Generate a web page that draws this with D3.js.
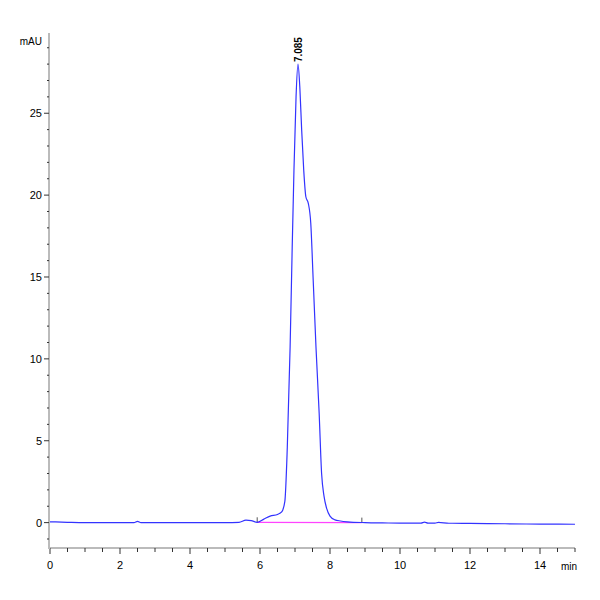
<!DOCTYPE html>
<html><head><meta charset="utf-8">
<script src="https://cdn.jsdelivr.net/npm/d3@7"></script>
<style>body{margin:0;background:#fff}</style>
</head><body><div id="chart"></div>
<script>
// retention time (min) and signal (mAU)
const times  = [0, 0.5, 1, 1.5, 2, 2.4, 2.5, 2.6, 3, 3.5, 4, 4.5, 5, 5.4, 5.6, 5.75, 5.92, 6.1, 6.29, 6.5, 6.62, 6.71, 6.78, 6.86, 6.92, 6.97, 7.03, 7.085, 7.14, 7.19, 7.25, 7.31, 7.38, 7.45, 7.52, 7.6, 7.69, 7.76, 7.83, 7.9, 8.0, 8.14, 8.3, 8.5, 9, 9.5, 10, 10.6, 10.7, 10.8, 11, 11.1, 11.4, 11.5, 12, 13, 14, 15];
const signal = [0.05, 0.02, 0.0, 0.0, 0.0, 0.0, 0.08, 0.0, 0.0, 0.0, 0.0, 0.0, 0.0, 0.02, 0.15, 0.12, 0.02, 0.2, 0.4, 0.5, 0.65, 1.3, 4.6, 10.7, 16.8, 21.5, 26.0, 28.0, 26.5, 24.0, 21.5, 19.9, 19.5, 18.3, 14.8, 10.7, 6.7, 3.0, 1.6, 0.9, 0.4, 0.17, 0.1, 0.05, 0.0, -0.02, -0.03, -0.03, 0.03, -0.03, -0.03, 0.02, -0.04, -0.04, -0.05, -0.07, -0.09, -0.1];
const baseline = [[5.92, 0.02], [8.91, 0.0]];
const xTicks = [0, 2, 4, 6, 8, 10, 12, 14];
const yTicks = [0, 5, 10, 15, 20, 25];
const peakTime = 7.085, peakLabel = "7.085";

const svg = d3.select("#chart").append("svg").attr("width", 600).attr("height", 600)
  .style("font-family", "Liberation Sans, Arial, sans-serif");
const x = d3.scaleLinear().domain([0, 15]).range([50, 575]);
const y = d3.scaleLinear().domain([-1.55, 29.9]).range([548, 33]);

// x axis
const xa = svg.append("g").attr("transform", "translate(0,548)");
xa.append("line").attr("x1", 49).attr("x2", 575).attr("stroke", "#bbb").attr("stroke-width", 2);
xa.selectAll(".mn").data(d3.range(0, 15.01, 0.5)).join("line")
  .attr("x1", d => x(d)).attr("x2", d => x(d)).attr("y1", 0).attr("y2", d => d % 2 === 0 ? 6 : 4)
  .attr("stroke", "#333");
xa.selectAll("text").data(xTicks).join("text")
  .attr("x", d => x(d)).attr("y", 21).attr("text-anchor", "middle").attr("font-size", 11)
  .text(d => d);
xa.append("text").attr("x", 569).attr("y", 22).attr("text-anchor", "middle").attr("font-size", 10).text("min");

// y axis
const ya = svg.append("g");
ya.append("line").attr("x1", 49).attr("x2", 49).attr("y1", 33).attr("y2", 549).attr("stroke", "#bbb").attr("stroke-width", 2);
ya.selectAll(".mn").data(d3.range(-1, 29.5, 1)).join("line")
  .attr("x1", 49).attr("x2", d => d % 5 === 0 ? 44 : 47).attr("y1", d => y(d)).attr("y2", d => y(d))
  .attr("stroke", "#333");
ya.selectAll("text").data(yTicks).join("text")
  .attr("x", 42).attr("y", d => y(d) + 4).attr("text-anchor", "end").attr("font-size", 11)
  .text(d => d);
ya.append("text").attr("x", 42).attr("y", 45).attr("text-anchor", "end").attr("font-size", 10).text("mAU");

// integration baseline
svg.append("path").datum(baseline)
  .attr("d", d3.line().x(d => x(d[0])).y(d => y(d[1])))
  .attr("stroke", "#ff44ff").attr("stroke-width", 1.2).attr("fill", "none");
svg.selectAll(".bt").data(baseline).join("line")
  .attr("x1", d => x(d[0])).attr("x2", d => x(d[0])).attr("y1", d => y(d[1]) - 5).attr("y2", d => y(d[1]))
  .attr("stroke", "#555");

// trace
const pts = times.map((t, i) => [t, signal[i]]);
svg.append("path").datum(pts)
  .attr("d", d3.line().x(d => x(d[0])).y(d => y(d[1])).curve(d3.curveMonotoneX))
  .attr("stroke", "#3333ff").attr("stroke-width", 1.2).attr("fill", "none");

// peak label
svg.append("text")
  .attr("transform", `translate(${x(peakTime) + 4},${y(28) - 2}) rotate(-90)`)
  .attr("font-size", 10).attr("font-weight", "bold").text(peakLabel);
</script></body></html>
